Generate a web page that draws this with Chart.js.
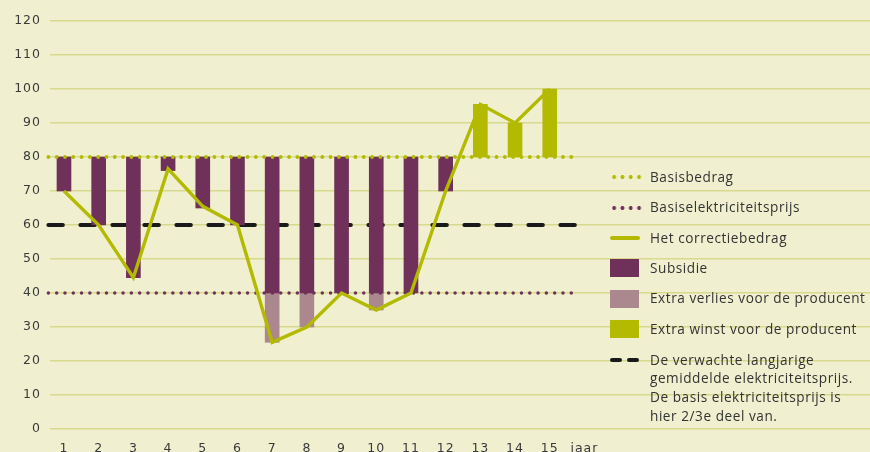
<!DOCTYPE html>
<html lang="nl">
<head>
<meta charset="utf-8">
<script src="https://cdn.jsdelivr.net/npm/chart.js@4/dist/chart.umd.min.js"></script>
<style>
  html, body { margin: 0; padding: 0; background: #f0f0d0; }
  .wrap { position: relative; width: 870px; height: 452px; overflow: hidden; }
  #chart { position: absolute; left: 0; top: 0; }
  .legend { position: absolute; left: 610px; top: 162px; font-family: "Open Sans", Lato, sans-serif; font-size: 13.6px; letter-spacing: 0.55px; color: #333; }
  .legend .row { display: flex; align-items: center; height: 30.4px; line-height: 18.6px; white-space: nowrap; }
  .legend .row.multi { align-items: flex-start; height: auto; padding-top: 6.5px; }
  .legend .sw { width: 30px; height: 18px; margin-right: 10px; flex: none; position: relative; }
  .sw.box-sub { background: #6f3159; width: 29px; margin-right: 11px; }
  .sw.box-loss { background: #ab888e; width: 29px; margin-right: 11px; }
  .sw.box-win { background: #b3ba00; width: 29px; margin-right: 11px; }
  .sw.dots::after { content: ""; position: absolute; left: 0; top: 7px; width: 33px; height: 4px;
    background: radial-gradient(circle, var(--c) 1.7px, transparent 2.1px) 0 0 / 8.3px 4px repeat-x; }
  .sw.solid::after { content: ""; position: absolute; left: 0; top: 7px; width: 30px; height: 4px; border-radius: 2px; background: #b3ba00; }
  .sw.dash::before, .sw.dash::after { content: ""; position: absolute; top: 7px; width: 12px; height: 4px; border-radius: 2px; background: #1a1a1a; }
  .sw.dash::before { left: 0; }
  .sw.dash::after { left: 17px; }
</style>
</head>
<body>
<div class="wrap">
  <canvas id="chart" width="870" height="452"></canvas>
  <div class="legend">
    <div class="row"><span class="sw dots" style="--c:#b3ba00"></span>Basisbedrag</div>
    <div class="row"><span class="sw dots" style="--c:#6f3159"></span>Basiselektriciteitsprijs</div>
    <div class="row"><span class="sw solid"></span>Het correctiebedrag</div>
    <div class="row"><span class="sw box-sub"></span>Subsidie</div>
    <div class="row"><span class="sw box-loss"></span>Extra verlies voor de producent</div>
    <div class="row"><span class="sw box-win"></span>Extra winst voor de producent</div>
    <div class="row multi"><span class="sw dash"></span><span>De verwachte langjarige<br>gemiddelde elektriciteitsprijs.<br>De basis elektriciteitsprijs is<br>hier 2/3e deel van.</span></div>
  </div>
</div>
<script>
// data -----------------------------------------
const xLabels = ["1", "2", "3", "4", "5", "6", "7", "8", "9", "10", "11", "12", "13", "14", "15", "jaar"];
const years = [1, 2, 3, 4, 5, 6, 7, 8, 9, 10, 11, 12, 13, 14, 15];

// het correctiebedrag per jaar
const correctie = [70, 60, 44.5, 76.5, 65.5, 60, 25.5, 30, 40, 35, 40, 70, 95.5, 90, 100];

const basisbedrag = 80;
const basisPrijs = 40;
const verwachtePrijs = 60;

// subsidie: [onder, boven]
const subsidie = [[70, 80], [60, 80], [44.5, 80], [76, 80], [65, 80], [60, 80], [40, 80], [40, 80], [40, 80], [40, 80], [40, 80], [70, 80], null, null, null];
const verlies = [null, null, null, null, null, null, [25.5, 40], [30, 40], null, [35, 40], null, null, null, null, null];
const winst = [null, null, null, null, null, null, null, null, null, null, null, null, [80, 95.5], [80, 90], [80, 100]];

// horizontale lijnen lopen van .. tot (in jaren)
const lineFrom = 0.55;
const lineTo = 15.82;

const yTicks = [0, 10, 20, 30, 40, 50, 60, 70, 80, 90, 100, 110, 120];

// ---------------------------------------------
const purple = "#6f3159";
const lightPurple = "#ab888e";
const green = "#b3ba00";

const toPoints = (arr) =>
  years.map((x, i) => (arr[i] == null ? null : { x, y: arr[i] })).filter((p) => p);
const flat = (v) => [{ x: lineFrom, y: v }, { x: lineTo, y: v }];

const barBase = { type: "bar", barThickness: 14, grouped: false, borderWidth: 0, order: 3 };

// iets meer letterafstand voor de aslabels
const spacing = {
  id: "spacing",
  beforeDraw: (chart) => {
    chart.ctx.letterSpacing = "1px";
  },
};

new Chart(document.getElementById("chart"), {
  data: {
    datasets: [
      {
        type: "line",
        label: "Het correctiebedrag",
        data: toPoints(correctie),
        borderColor: green,
        borderWidth: 3.4,
        pointRadius: 0,
        tension: 0,
        order: 0,
      },
      {
        type: "line",
        label: "Basisbedrag",
        data: flat(basisbedrag),
        borderColor: green,
        borderWidth: 3.8,
        borderDash: [0, 8.3],
        borderCapStyle: "round",
        pointRadius: 0,
        clip: false,
        order: 1,
      },
      {
        type: "line",
        label: "Basiselektriciteitsprijs",
        data: flat(basisPrijs),
        borderColor: purple,
        borderWidth: 3.5,
        borderDash: [0, 8.3],
        borderCapStyle: "round",
        pointRadius: 0,
        clip: false,
        order: 2,
      },
      { ...barBase, label: "Subsidie", data: toPoints(subsidie), backgroundColor: purple },
      { ...barBase, label: "Extra verlies voor de producent", data: toPoints(verlies), backgroundColor: lightPurple },
      { ...barBase, label: "Extra winst voor de producent", data: toPoints(winst), backgroundColor: green },
      {
        type: "line",
        label: "De verwachte langjarige gemiddelde elektriciteitsprijs",
        data: flat(verwachtePrijs),
        borderColor: "#1a1a1a",
        borderWidth: 4,
        borderDash: [14.5, 17.5],
        borderCapStyle: "round",
        pointRadius: 0,
        clip: false,
        order: 4,
      },
    ],
  },
  plugins: [spacing],
  options: {
    responsive: false,
    animation: false,
    layout: { padding: { top: 21, right: 0, left: 0, bottom: 0 } },
    plugins: { legend: { display: false }, tooltip: { enabled: false } },
    scales: {
      x: {
        type: "linear",
        min: 0.597,
        max: 24.23,
        offset: false,
        grid: { display: false, drawTicks: false },
        border: { display: false },
        afterBuildTicks: (scale) => {
          scale.ticks = xLabels.map((_, i) => ({ value: i + 1 }));
        },
        afterFit: (scale) => {
          scale.height = 23;
        },
        ticks: {
          padding: 12,
          maxRotation: 0,
          autoSkip: false,
          color: "#3a3a3a",
          font: { family: "DejaVu Sans", size: 12.5 },
          callback: (v) => xLabels[v - 1],
        },
      },
      y: {
        min: 0,
        max: 120,
        grid: { color: "#d7d98c", lineWidth: 1.6, drawTicks: false },
        border: { display: false },
        afterBuildTicks: (scale) => {
          scale.ticks = yTicks.map((v) => ({ value: v }));
        },
        afterFit: (scale) => {
          scale.width = 50;
        },
        ticks: {
          padding: 9,
          color: "#3a3a3a",
          font: { family: "DejaVu Sans", size: 12.5 },
        },
      },
    },
  },
});
</script>
</body>
</html>
